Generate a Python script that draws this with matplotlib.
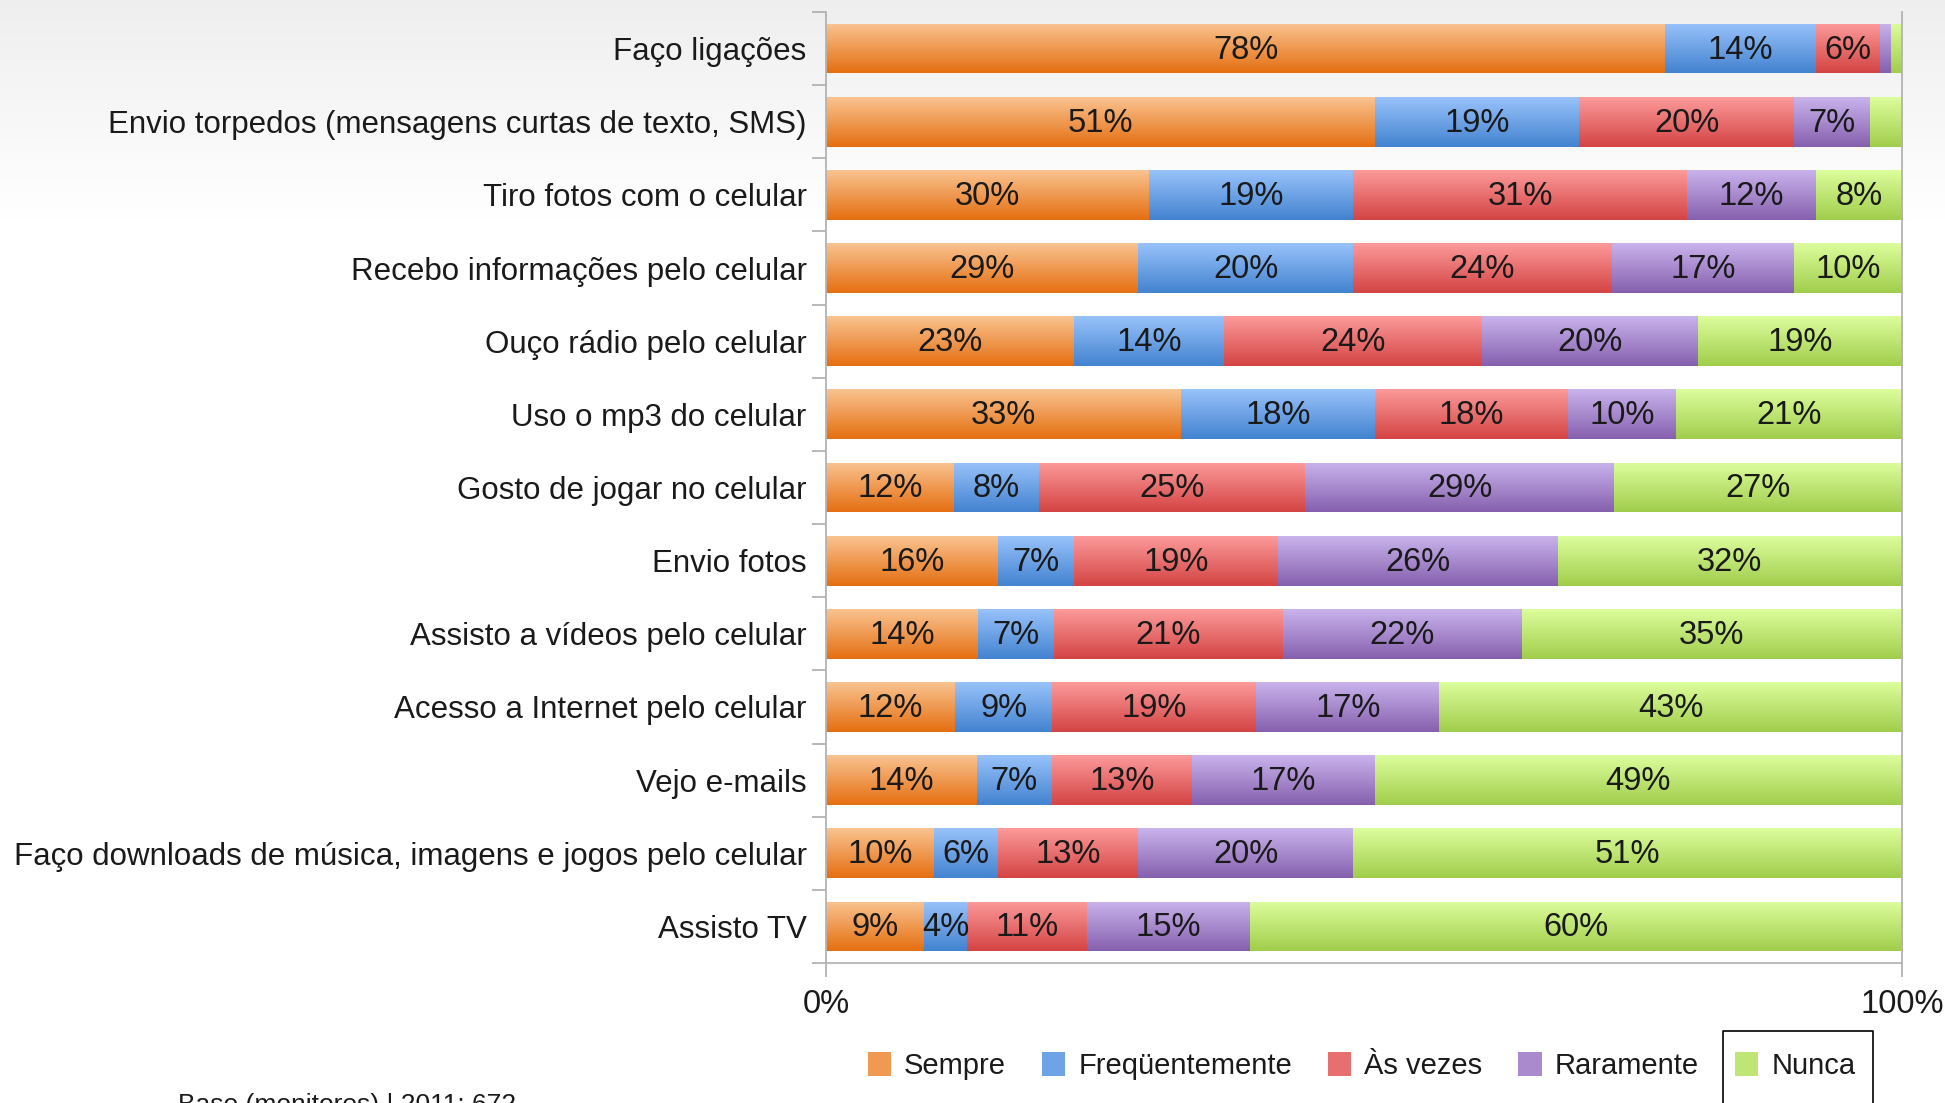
import numpy as np
import matplotlib
matplotlib.use("Agg")
import matplotlib.pyplot as plt
from matplotlib import font_manager
from matplotlib.colors import to_rgb
from matplotlib.lines import Line2D
from matplotlib.patches import Patch

nomes = [f.name for f in font_manager.fontManager.ttflist]
fonte = "Liberation Sans Narrow" if "Liberation Sans Narrow" in nomes else "Liberation Sans"
plt.rcParams['font.family'] = [fonte, 'DejaVu Sans']

categorias = [
    "Faço ligações",
    "Envio torpedos (mensagens curtas de texto, SMS)",
    "Tiro fotos com o celular",
    "Recebo informações pelo celular",
    "Ouço rádio pelo celular",
    "Uso o mp3 do celular",
    "Gosto de jogar no celular",
    "Envio fotos",
    "Assisto a vídeos pelo celular",
    "Acesso a Internet pelo celular",
    "Vejo e-mails",
    "Faço downloads de música, imagens e jogos pelo celular",
    "Assisto TV",
]
series = ["Sempre", "Freqüentemente", "Às vezes", "Raramente", "Nunca"]

sempre = [78, 51, 30, 29, 23, 33, 12, 16, 14, 12, 14, 10, 9]
frequentemente = [14, 19, 19, 20, 14, 18, 8, 7, 7, 9, 7, 6, 4]
as_vezes = [6, 20, 31, 24, 24, 18, 25, 19, 21, 19, 13, 13, 11]
raramente = [1, 7, 12, 17, 20, 10, 29, 26, 22, 17, 17, 20, 15]
nunca = [1, 3, 8, 10, 19, 21, 27, 32, 35, 43, 49, 51, 60]

# (cor de cima, cor de baixo) do degradê
cores = [
    ("#f9c390", "#e56f12"),
    ("#98c2fa", "#4383d0"),
    ("#fc9a9a", "#d44444"),
    ("#c9b3ec", "#8660ae"),
    ("#dcfe9c", "#a1cd4c"),
]

dados = np.array([sempre, frequentemente, as_vezes, raramente, nunca], dtype=float)
totais = dados.sum(axis=0)
fracoes = dados / totais

fig = plt.figure(figsize=(19.45, 11.03), dpi=100)

# fundo com degradê cinza no topo
fundo = fig.add_axes([0, 0, 1, 1], zorder=-10)
grad = np.ones((1103, 1))
grad[:220, 0] = np.linspace(0.935, 1.0, 220)
fundo.imshow(np.dstack([grad, grad, grad]), aspect='auto', extent=(0, 1, 0, 1), origin='upper')
fundo.set_axis_off()

ax = fig.add_axes([0.4247, 0.1269, 0.5532, 0.8622])
ax.patch.set_alpha(0)
y = np.arange(len(categorias))
esquerda = np.zeros(len(categorias))
altura = 0.68

for i, nome in enumerate(series):
    c_top, c_bot = cores[i]
    barras = ax.barh(y, fracoes[i], left=esquerda, height=altura,
                     color=c_bot, linewidth=0, label=nome)
    g = np.linspace(0, 1, 64)[:, None, None]
    img = (1 - g) * np.array(to_rgb(c_top)) + g * np.array(to_rgb(c_bot))
    for b in barras:
        x0, y0 = b.get_x(), b.get_y()
        w, h = b.get_width(), b.get_height()
        im = ax.imshow(img, extent=(x0, x0 + w, y0 + h, y0), origin='upper',
                       aspect='auto', interpolation='bilinear', zorder=2)
        im.set_clip_path(b)
    for j in range(len(categorias)):
        if dados[i, j] >= 4:
            ax.text(esquerda[j] + fracoes[i, j] / 2, y[j] + 0.02, f"{int(dados[i, j])}%",
                    ha='center', va='center', fontsize=23.5, color='#1a1a1a', zorder=3)
    esquerda += fracoes[i]

ax.set_xlim(0, 1)
ax.set_ylim(len(categorias) - 0.5, -0.5)
ax.set_xticks([0, 1])
ax.set_xticklabels(["0%", "100%"])
ax.set_yticks(y)
ax.set_yticklabels(categorias)
ax.set_yticks(np.arange(-0.5, len(categorias)), minor=True)
ax.tick_params(axis='y', which='major', length=0, pad=14, labelsize=22.5, labelcolor='#1a1a1a')
ax.tick_params(axis='y', which='minor', length=10, color='#b3b3b3', width=1.3)
ax.tick_params(axis='x', length=10, color='#b3b3b3', width=1.3, pad=9,
               labelsize=23.5, labelcolor='#1a1a1a')
ax.spines['top'].set_visible(False)
for s in ['left', 'right', 'bottom']:
    ax.spines[s].set_color('#b3b3b3')
    ax.spines[s].set_linewidth(1.3)

meio = [tuple((np.array(to_rgb(a)) + np.array(to_rgb(b))) / 2) for a, b in cores]
alcas = [Patch(facecolor=meio[i], edgecolor='none') for i in range(5)]
fig.legend(alcas, series, loc='center', bbox_to_anchor=(0.700, 1 - 1066 / 1103),
           ncol=5, frameon=False, fontsize=21, handlelength=0.8, handleheight=0.9,
           handletextpad=0.45, columnspacing=1.23, labelcolor='#1a1a1a')

# moldura parcial em volta de "Nunca"
fig.add_artist(Line2D([1723 / 1945, 1723 / 1945, 1873 / 1945, 1873 / 1945],
                      [0, 1 - 1031 / 1103, 1 - 1031 / 1103, 0],
                      transform=fig.transFigure, color='black', linewidth=1.2))

fig.text(178 / 1945, 1 - 1093 / 1103, "Base (monitores) | 2011: 672",
         fontsize=19, va='top', ha='left', color='#1a1a1a',
         family=['Liberation Sans', 'DejaVu Sans'])

fig.savefig("out.png", dpi=100)
